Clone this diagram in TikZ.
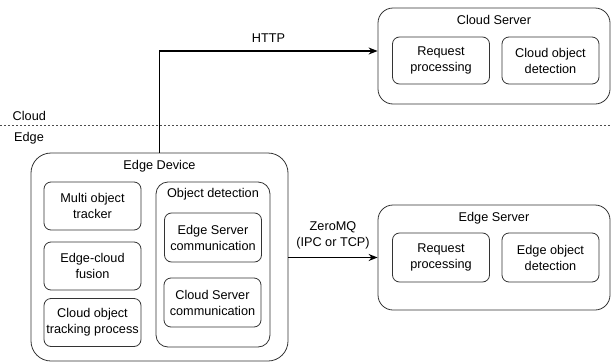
\documentclass[tikz,border=0pt]{standalone}
\usepackage{fontspec}
\setmainfont{Liberation Sans}
\usetikzlibrary{arrows.meta}
\begin{document}
\begin{tikzpicture}[x=1pt, y=-1pt, font=\fontsize{12.7}{16}\selectfont,
  outer/.style={draw=black!80, line width=0.8pt, rounded corners=15pt, minimum width=232pt},
  block/.style={draw=black!80, line width=0.8pt, rounded corners=7pt, minimum width=97pt, minimum height=48pt, align=center, inner sep=1pt},
  title/.style={anchor=base},
  link/.style={draw=black, line width=1.3pt, -{Stealth[length=9pt, width=7pt]}}]
  \useasboundingbox (0,0) rectangle (611,362);
  % cloud / edge split
  \draw[black!70, line width=0.7pt, dash pattern=on 2pt off 2pt] (0,125) -- (611,125);
  \node[anchor=base west, inner sep=0pt] (cloudlbl) at (12.5,120.5) {Cloud};
  \node[anchor=base west, inner sep=0pt] (edgelbl) at (14,141) {Edge};
  % cloud server
  \node[outer, minimum height=96pt] (cs) at (494,56) {};
  \node[title] (cstitle) at (494,24.5) {Cloud Server};
  \node[block, minimum height=47pt] (csreq) at (441,60.5) {Request\\processing};
  \node[block, minimum height=47pt] (csdet) at (550.5,60.5) {Cloud object\\detection};
  % edge server
  \node[outer, minimum height=105pt] (es) at (494,257.5) {};
  \node[title] (estitle) at (494,221.5) {Edge Server};
  \node[block, minimum height=49pt] (esreq) at (441,257.5) {Request\\processing};
  \node[block, minimum height=49pt] (esdet) at (550.5,257.5) {Edge object\\detection};
  % edge device
  \node[outer, rounded corners=20pt, minimum width=257pt, minimum height=208pt] (ed) at (159.5,257) {};
  \node[title] (edtitle) at (159.5,169) {Edge Device};
  \node[block] (mot) at (92.5,206) {Multi object\\tracker};
  \node[block] (fuse) at (92.5,266) {Edge-cloud\\fusion};
  \node[block] (cotp) at (92.5,322.5) {Cloud object\\tracking process};
  \node[block, rounded corners=12pt, minimum width=114pt, minimum height=165pt] (od) at (213,264.5) {};
  \node[title] (odtitle) at (213,197.5) {Object detection};
  \node[block, minimum height=49pt] (escom) at (213,237.5) {Edge Server\\communication};
  \node[block, minimum height=49pt] (cscom) at (212.5,302.5) {Cloud Server\\communication};
  % links
  \draw[link] (ed.north) |- ([yshift=5pt]cs.west) node[pos=0.75, above=5pt, black] {HTTP};
  \draw[link] (ed.east |- es.west) -- (es.west) node[midway, above=4pt, align=center, black] {ZeroMQ\\(IPC or TCP)};
\end{tikzpicture}
\end{document}
